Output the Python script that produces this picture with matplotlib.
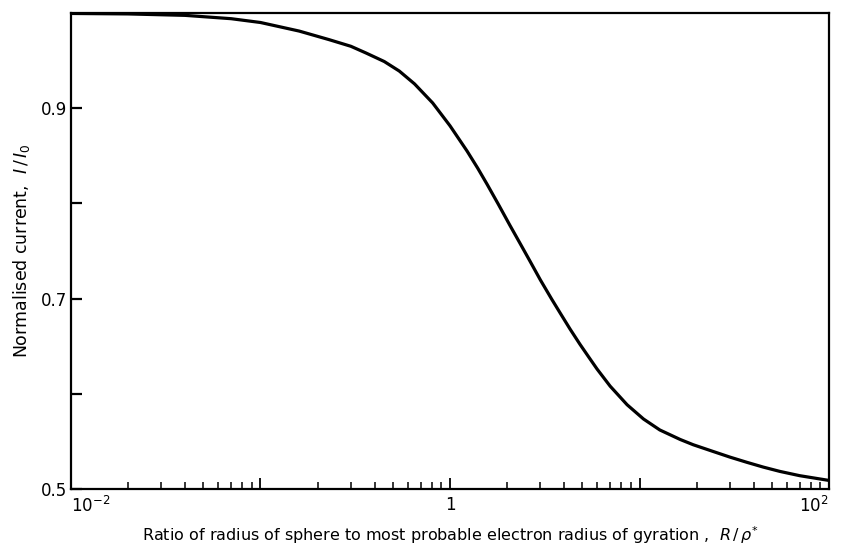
import matplotlib.pyplot as plt
from matplotlib.ticker import FixedLocator, FixedFormatter, LogLocator, NullFormatter

# Valores (R/rho* , I/I0)
ratio = [0.01, 0.02, 0.04, 0.07, 0.1, 0.16, 0.23, 0.3, 0.36, 0.45,
         0.54, 0.65, 0.81, 1.0, 1.23, 1.4, 1.57, 1.8, 2.07, 2.35,
         2.64, 3.0, 3.45, 3.85, 4.3, 4.85, 5.4, 5.97, 7.0, 8.6,
         10.5, 12.8, 16.4, 19.2, 24.4, 30.0, 36.9, 45.0, 55.0, 70.0, 100.0]
corriente = [0.9995, 0.999, 0.9975, 0.994, 0.990, 0.981, 0.972, 0.965, 0.958, 0.949,
             0.939, 0.9255, 0.9055, 0.8815, 0.855, 0.837, 0.820, 0.799, 0.777, 0.7575,
             0.7395, 0.7195, 0.699, 0.6835, 0.668, 0.652, 0.6385, 0.626, 0.608, 0.5885,
             0.5735, 0.562, 0.552, 0.5465, 0.5395, 0.5335, 0.528, 0.523, 0.5185, 0.514, 0.509]

x_ticks = [0.01, 0.1, 1, 10, 100]
x_ticklabels = ['$10^{-2}$', '', '1', '', '$10^{2}$']
y_ticks = [0.5, 0.6, 0.7, 0.8, 0.9]
y_ticklabels = ['0.5', '', '0.7', '', '0.9']

fig = plt.figure(figsize=(8.42, 5.5), dpi=100)
ax = fig.add_axes([0.0843, 0.1109, 0.9003, 0.8655])

ax.plot(ratio, corriente, color='black', linewidth=2.3,
        solid_capstyle='round', solid_joinstyle='round')

ax.set_xscale('log')
ax.set_xlim(0.01, 100)
ax.set_ylim(0.5, 1.0)

ax.xaxis.set_major_locator(FixedLocator(x_ticks))
ax.xaxis.set_major_formatter(FixedFormatter(x_ticklabels))
ax.xaxis.set_minor_locator(LogLocator(base=10, subs=range(2, 10)))
ax.xaxis.set_minor_formatter(NullFormatter())
ax.yaxis.set_major_locator(FixedLocator(y_ticks))
ax.yaxis.set_major_formatter(FixedFormatter(y_ticklabels))

ax.tick_params(axis='x', which='major', direction='in', length=8, width=1.3,
               labelsize=12, pad=5, top=False)
ax.tick_params(axis='x', which='minor', direction='in', length=5, width=1.1, top=False)
ax.tick_params(axis='y', which='major', direction='in', length=8, width=1.6,
               labelsize=12, pad=3, right=False)

# etiquetas de los extremos del eje x, como en el original
fig.canvas.draw()
etiquetas = ax.get_xticklabels()
etiquetas[0].set_horizontalalignment('left')
etiquetas[-1].set_horizontalalignment('right')

for lado in ax.spines.values():
    lado.set_linewidth(1.6)

ax.set_xlabel('Ratio of radius of sphere to most probable electron radius of gyration ,  $R\\,/\\,\\rho^{*}$',
              fontsize=11.5, labelpad=6)
ax.set_ylabel('Normalised current,  $I\\,/\\,I_0$', fontsize=12.5, labelpad=6)

plt.savefig('out.png', dpi=100)
